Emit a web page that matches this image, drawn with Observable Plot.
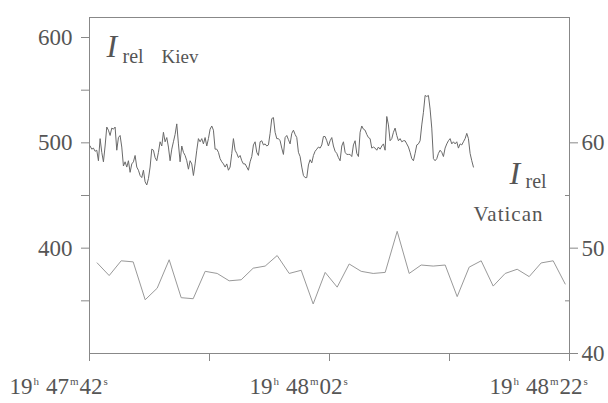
<!DOCTYPE html>
<html><head><meta charset="utf-8">
<script src="https://cdn.jsdelivr.net/npm/d3@7"></script>
<script src="https://cdn.jsdelivr.net/npm/@observablehq/plot@0.6"></script>
<style>body{margin:0;background:#fff} svg text{font-family:"Liberation Serif","Times New Roman",serif !important;}</style>
</head><body><div id="chart"></div>
<script>
// Time in seconds after 19h 47m 42s
const baseTime = [19, 47, 42];
const kievStart = 0.05;
const kievStep = 5 / 36;
const kievValues = [
  497,494,495,492,493,483,504,491,482,497,
  515,512,507,514,513,515,493,505,507,496,
  478,482,477,483,472,480,482,488,477,474,
  469,467,474,463,460,466,477,494,493,486,
  483,491,501,497,510,501,505,496,483,494,
  501,508,518,499,482,497,491,488,483,475,
  483,480,469,480,493,504,501,504,499,505,
  497,504,513,516,512,494,494,491,485,482,
  480,477,480,474,477,490,504,493,490,486,
  488,483,480,480,477,474,
  482,487,498,501,491,488,501,502,498,499,497,498,509,523,524,510,504,504,502,495,489,
  505,507,503,499,509,512,508,505,491,487,477,469,467,467,479,484,481,488,492,494,
  496,495,498,506,506,502,497,502,505,497,492,490,486,483,497,501,491,489,489,489,
  487,498,502,490,487,510,516,513,512,508,505,504,495,496,495,493,496,494,497,
  499,493,525,517,502,504,510,514,507,502,504,501,502,502,499,496,491,485,483,490,
  498,499,502,517,529,545,544,545,532,514,485,483,485,490,493,491,487,495,499,502,
  504,499,501,499,501,495,499,498,501,504,509,504,490,483,477
];
const vaticanStart = 0.64;
const vaticanStep = 1;
const vaticanValues = [
  48.6,47.4,48.8,48.7,45.1,46.2,48.9,45.3,45.2,47.8,
  47.6,46.9,47.0,48.1,48.3,49.3,47.6,47.9,44.7,47.7,
  46.3,48.5,47.8,47.6,47.7,51.6,47.6,48.4,48.3,48.4,
  45.4,48.2,48.8,46.4,47.6,48.0,47.3,48.6,48.8,46.6
];
const xTicks = [0, 10, 20, 30, 40];
const xLabelTicks = [0, 20, 40];
const leftTicks = [350, 400, 450, 500, 550, 600];
const leftLabelTicks = [400, 500, 600];
const rightMajor = [40, 50, 60];
const rightMinor = [45, 55];

const kiev = kievValues.map((v, i) => ({t: kievStart + i * kievStep, v}));
const vatican = vaticanValues.map((v, i) => ({t: vaticanStart + i * vaticanStep, v}));
const toLeft = r => (r - 10) * 10;

function fmtTime(t) {
  const total = baseTime[0] * 3600 + baseTime[1] * 60 + baseTime[2] + t;
  const h = Math.floor(total / 3600), m = Math.floor((total % 3600) / 60), s = Math.round(total % 60);
  return `${h}h ${m}m${String(s).padStart(2, "0")}s`;
}

const txt = "#555", axisCol = "#888", ff = "Liberation Serif";
const svg = Plot.plot({
  width: 608, height: 403,
  marginLeft: 89, marginRight: 39, marginTop: 17, marginBottom: 50,
  style: {fontFamily: ff, fontSize: "23px", color: txt, background: "#fff"},
  x: {domain: [0, 40], label: null},
  y: {domain: [300, 619], label: null},
  marks: [
    Plot.frame({stroke: axisCol}),
    Plot.axisX(xTicks, {tickSize: 8, stroke: axisCol, tickFormat: () => "", label: null}),
    Plot.text(xLabelTicks, {x: d => d, frameAnchor: "bottom", dy: 40, dx: -80, lineAnchor: "bottom", textAnchor: "start", text: fmtTime, fontSize: 23, fill: txt}),
    Plot.axisY(leftTicks, {anchor: "left", tickSize: 8, tickPadding: 9, stroke: axisCol,
      tickFormat: d => leftLabelTicks.includes(d) ? String(d) : "", label: null}),
    Plot.axisY(rightMajor.map(toLeft), {anchor: "right", tickSize: 8, tickPadding: 4, stroke: axisCol,
      tickFormat: d => String(d / 10 + 10), label: null}),
    Plot.ruleY(rightMinor.map(toLeft), {stroke: axisCol, insetLeft: 476}),
    Plot.line(vatican, {x: "t", y: d => toLeft(d.v), stroke: "#999", strokeWidth: 1}),
    Plot.line(kiev, {x: "t", y: "v", stroke: "#6a6a6a", strokeWidth: 1}),
    Plot.text(["I"], {frameAnchor: "top-left", dx: 17, dy: 39, lineAnchor: "bottom", textAnchor: "start", fontStyle: "italic", fontSize: 32, fill: txt}),
    Plot.text(["rel"], {frameAnchor: "top-left", dx: 33, dy: 45, lineAnchor: "bottom", textAnchor: "start", fontSize: 20, fill: txt}),
    Plot.text(["Kiev"], {frameAnchor: "top-left", dx: 72, dy: 45, lineAnchor: "bottom", textAnchor: "start", fontSize: 19, fill: txt}),
    Plot.text(["I"], {frameAnchor: "top-right", dx: -60, dy: 166, lineAnchor: "bottom", textAnchor: "start", fontStyle: "italic", fontSize: 32, fill: txt}),
    Plot.text(["rel"], {frameAnchor: "top-right", dx: -44, dy: 170, lineAnchor: "bottom", textAnchor: "start", fontSize: 20, fill: txt}),
    Plot.text(["Vatican"], {frameAnchor: "top-right", dx: -96, dy: 203, lineAnchor: "bottom", textAnchor: "start", fontSize: 21, fill: txt})
  ]
});

d3.select(svg).selectAll("text").each(function () {
  if (this.textContent === "Vatican") this.setAttribute("letter-spacing", "1");
  // superscript h, m, s in the time labels
  const m = /^(\d+)h (\d+)m(\d+)s$/.exec(this.textContent);
  if (!m) return;
  const t = d3.select(this);
  t.text(null);
  t.append("tspan").text(m[1]);
  t.append("tspan").attr("dy", -9).attr("dx", 1).attr("font-size", 11).text("h");
  t.append("tspan").attr("dy", 9).attr("dx", 7).text(m[2]);
  t.append("tspan").attr("dy", -9).attr("dx", 1).attr("font-size", 11).text("m");
  t.append("tspan").attr("dy", 9).attr("dx", 1).text(m[3]);
  t.append("tspan").attr("dy", -9).attr("dx", 1).attr("font-size", 11).text("s");
});
document.getElementById("chart").append(svg);
</script>
</body></html>
